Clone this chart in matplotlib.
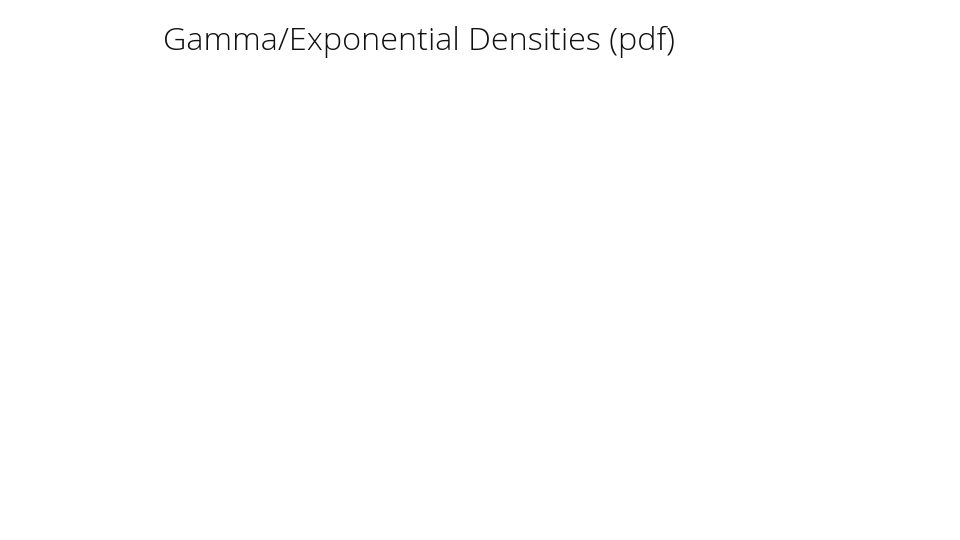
import matplotlib
matplotlib.use("Agg")
import matplotlib.pyplot as plt

# Slide is only a title, nothing plotted below it
title_text = "Gamma/Exponential Densities (pdf)"

fig = plt.figure(figsize=(9.6, 5.4), dpi=100)
fig.patch.set_facecolor("white")

fig.text(163 / 960, 1 - 50 / 540, title_text, fontsize=23.3, family=["Open Sans", "DejaVu Sans"],
         fontweight="light", color="#111111", ha="left", va="baseline")

fig.savefig("out.png", dpi=100, facecolor="white")
